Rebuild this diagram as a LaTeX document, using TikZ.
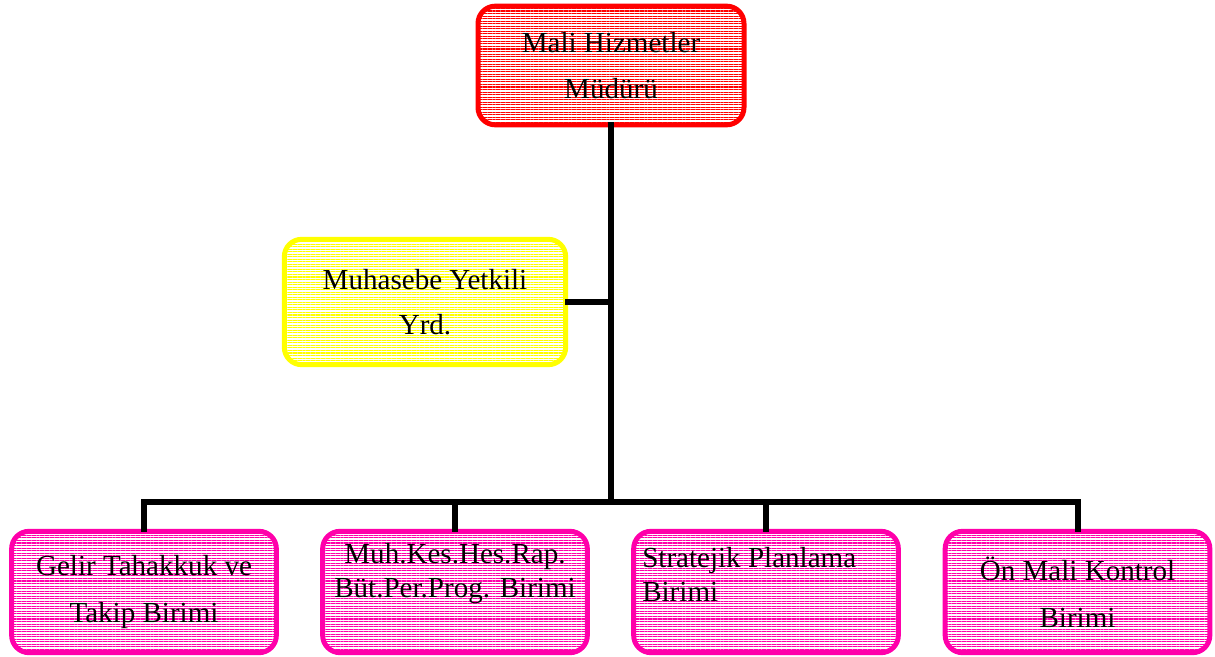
\documentclass[tikz,border=0pt]{standalone}
\usepackage{fontspec}
\setmainfont{Liberation Serif}
\usetikzlibrary{patterns.meta}
\definecolor{boxred}{RGB}{255,0,0}
\definecolor{boxyellow}{RGB}{255,255,0}
\definecolor{boxpink}{RGB}{255,0,170}
\tikzset{
  orgbox/.style={draw=#1, line width=3.75pt, rounded corners=13pt,
    pattern={Lines[angle=0,distance=1.9pt,line width=0.8pt]}, pattern color=#1,
    inner sep=0pt, align=center, text=black},
  wide/.style={minimum width=198.5pt, minimum height=91pt},
  link/.style={line width=4.5pt, line cap=rect, line join=miter, draw=black},
  big/.style={font=\fontsize{21.8}{34}\selectfont},
  bigloose/.style={font=\fontsize{21.8}{35.5}\selectfont},
  tight/.style={font=\fontsize{21.8}{25.5}\selectfont}
}
\begin{document}
\begin{tikzpicture}[x=0.75pt,y=-0.75pt]
\useasboundingbox (0,0) rectangle (1215,657);
\node[orgbox=boxred, minimum width=199.5pt, minimum height=89pt, big] (top) at (611,65.5) {Mali Hizmetler\\Müdürü};
\node[orgbox=boxyellow, minimum width=211pt, minimum height=94pt, big] (yrd) at (425,302) {Muhasebe Yetkili\\Yrd.};
\node[orgbox=boxpink, wide, bigloose] (b1) at (144,592) {Gelir Tahakkuk ve\\Takip Birimi};
\node[orgbox=boxpink, wide] (b2) at (455,592) {};
\node[orgbox=boxpink, wide] (b3) at (766,592) {};
\node[orgbox=boxpink, wide, bigloose] (b4) at (1077.5,592) {Ön Mali Kontrol\\Birimi};
\node[tight, align=center, inner sep=0pt] (b2t) at (455,574) {Muh.Kes.Hes.Rap.\\Büt.Per.Prog. Birimi};
\node[tight, align=left, inner sep=0pt, anchor=west] (b3t) at (642,574) {Stratejik Planlama\\Birimi};
\coordinate (bar) at (611,502);
\draw[link] (top.south) -- (bar);
\draw[link] (yrd.east) -- (yrd.east -| top.south);
\draw[link] (b1.north) -- (b1.north |- bar) -- (b4.north |- bar) -- (b4.north);
\draw[link] (b2.north) -- (b2.north |- bar);
\draw[link] (b3.north) -- (b3.north |- bar);
\end{tikzpicture}
\end{document}
